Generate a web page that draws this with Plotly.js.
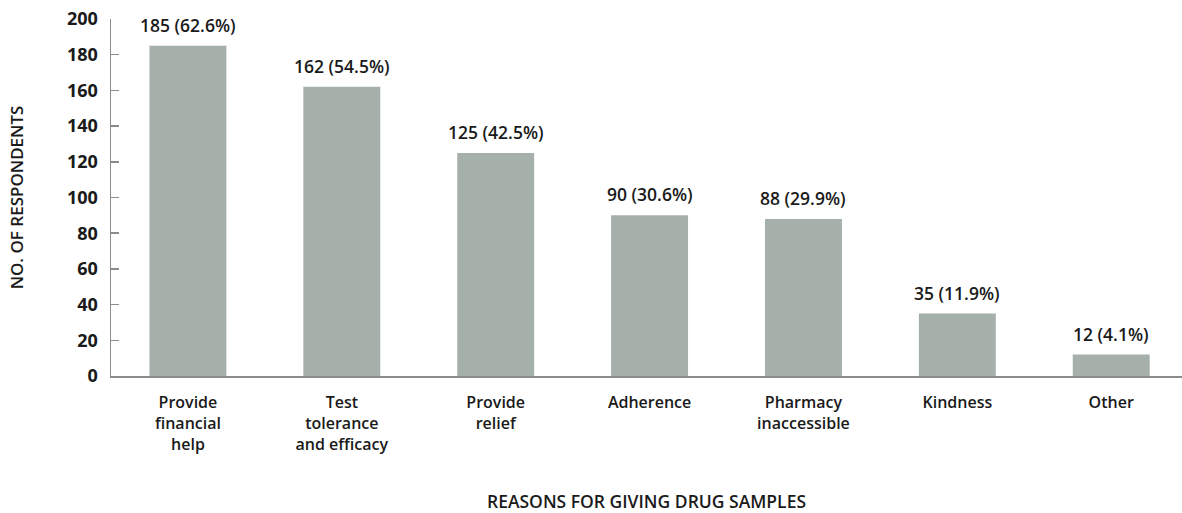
<!DOCTYPE html>
<html><head><meta charset="utf-8">
<script src="https://cdn.plot.ly/plotly-3.0.1.min.js"></script>
<style>body{margin:0;padding:0;background:#fff}#chart{width:1182px;height:513px}</style>
</head><body><div id="chart"></div>
<script>
const categories = ["Provide<br>financial<br>help", "Test<br>tolerance<br>and efficacy", "Provide<br>relief", "Adherence", "Pharmacy<br>inaccessible", "Kindness", "Other"];
const counts = [185, 162, 125, 90, 88, 35, 12];
const percents = ["62.6%", "54.5%", "42.5%", "30.6%", "29.9%", "11.9%", "4.1%"];
const yTicks = [0, 20, 40, 60, 80, 100, 120, 140, 160, 180, 200];

const labelFont = {family: "Open Sans, sans-serif", size: 17.5, color: "#1a1a1a", weight: 600};
const annotations = categories.map((c, i) => ({
  x: i, y: counts[i], xref: "x", yref: "y",
  text: counts[i] + " (" + percents[i] + ")",
  showarrow: false, yanchor: "bottom", yshift: 7,
  font: labelFont
}));

const data = [{
  type: "bar",
  x: categories.map((c, i) => i),
  y: counts,
  marker: {color: "#a5b0aa"},
  hoverinfo: "skip"
}];

const layout = {
  width: 1182, height: 513,
  margin: {l: 111, r: 0, t: 19, b: 137},
  paper_bgcolor: "#fff", plot_bgcolor: "#fff",
  bargap: 0.5,
  showlegend: false,
  xaxis: {
    range: [-0.5, 6.46],
    tickmode: "array",
    tickvals: categories.map((c, i) => i),
    ticktext: categories,
    ticks: "",
    showgrid: false, zeroline: false,
    showline: true, linecolor: "#8c8c8c", linewidth: 2,
    tickfont: {family: "Open Sans, sans-serif", size: 16, color: "#1a1a1a", weight: 600},
    ticklabelstandoff: 11,
    title: {text: "REASONS FOR GIVING DRUG SAMPLES", font: {family: "Open Sans, sans-serif", size: 17.5, color: "#1a1a1a", weight: 600}, standoff: 52}
  },
  yaxis: {
    range: [0, 200],
    tickmode: "array", tickvals: yTicks,
    ticks: "inside", ticklen: 8, tickcolor: "#8c8c8c", tickwidth: 1.5,
    showgrid: false, zeroline: false,
    showline: true, linecolor: "#8c8c8c", linewidth: 1.5,
    tickfont: {family: "Open Sans, sans-serif", size: 18, color: "#1a1a1a", weight: 700},
    ticklabelstandoff: 8,
    title: {text: "NO. OF RESPONDENTS", font: {family: "Open Sans, sans-serif", size: 17, color: "#1a1a1a", weight: 600}, standoff: 39}
  },
  annotations: annotations
};
Plotly.newPlot("chart", data, layout, {displayModeBar: false, staticPlot: true});
</script></body></html>
